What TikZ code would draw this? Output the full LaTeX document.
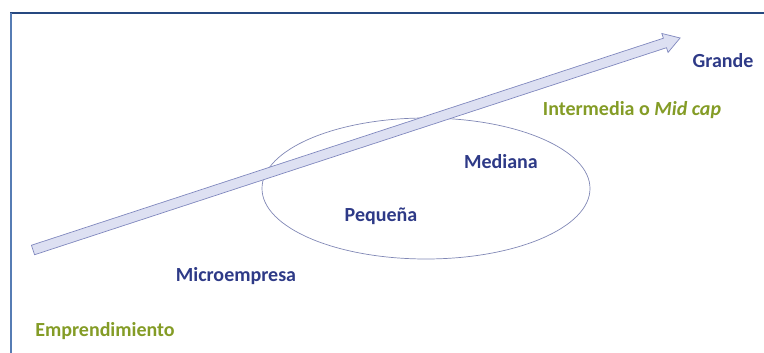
\documentclass[tikz,border=0pt]{standalone}
\usepackage{fontspec}
\setmainfont{Carlito}
\usepackage{tikz}
\usetikzlibrary{positioning}
\definecolor{colorstage}{RGB}{46,58,135}
\definecolor{colorlimit}{RGB}{132,156,38}
\definecolor{colorarrow}{RGB}{221,224,242}
\definecolor{colorline}{RGB}{128,136,190}
\definecolor{colortop}{RGB}{38,72,128}
\definecolor{colorleft}{RGB}{86,124,180}

\begin{document}
\begin{tikzpicture}[
    x=1pt, y=1pt,
    font={\fontsize{20}{24}\selectfont\bfseries},
    stage/.style={text=colorstage,inner sep=0pt},
    limit/.style={text=colorlimit,inner sep=0pt},
]
    \useasboundingbox (0,0) rectangle (764,353);

    % Frame
    \draw[colortop,line width=1.6pt] (10,340) -- (764,340);
    \draw[colorleft,line width=1.6pt] (11,340) -- (11,0);

    % Cloud of the small and medium firms
    \draw[colorline!85!gray,line width=0.7pt] (426,164.5) ellipse [x radius=164, y radius=70.5];

    % Growth arrow
    \coordinate (tail) at (33,103);
    \coordinate (tip)  at (680,315);
    \begin{scope}[shift={(tail)},rotate=18.14]
        \draw[fill=colorarrow,draw=colorline,line width=0.7pt]
            (0,-5) -- (665,-5) -- (665,-10) -- (681,0) -- (665,10) -- (665,5) -- (0,5) -- cycle;
    \end{scope}

    % Stages
    \node[limit] (emprendimiento) at (105,22)  {Emprendimiento};
    \node[stage] (micro)          at (236,77)  {Microempresa};
    \node[stage] (pequena)        at (381,137) {Pequeña};
    \node[stage] (mediana)        at (501,191) {Mediana};
    \node[limit] (intermedia)     at (632,243) {Intermedia o \textit{Mid cap}};
    \node[stage] (grande)         at (723,292) {Grande};

\end{tikzpicture}
\end{document}
